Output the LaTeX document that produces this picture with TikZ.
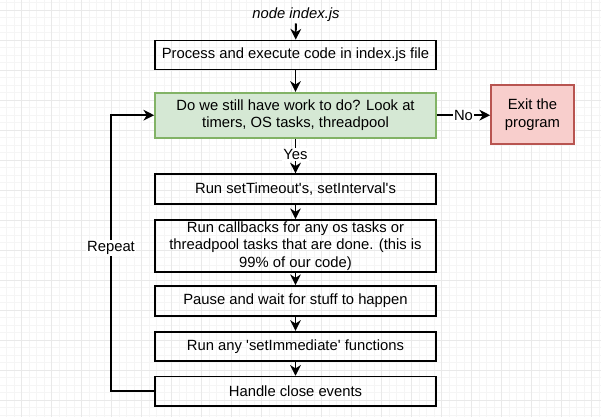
\documentclass[tikz,border=0pt]{standalone}
\usepackage{fontspec}
\setmainfont{Liberation Sans}
\usetikzlibrary{arrows.meta}
\definecolor{greenfill}{HTML}{D5E8D4}
\definecolor{greenline}{HTML}{82B366}
\definecolor{redfill}{HTML}{F8CECC}
\definecolor{redline}{HTML}{B85450}
\definecolor{gridminor}{HTML}{F5F5F5}
\definecolor{gridmajor}{HTML}{E9E9E9}
\begin{document}
\begin{tikzpicture}[x=0.75pt,y=-0.75pt,
  font=\fontsize{11.1}{13.3}\selectfont,
  box/.style={draw, line width=1.3pt, minimum width=210.75pt, align=center, inner sep=0pt},
  conn/.style={line width=1.4pt, -{Stealth[length=8pt,width=8pt,inset=2.5pt]}},
  lbl/.style={fill=white, inner sep=1pt}]
\useasboundingbox (0,0) rectangle (601,417);
\fill[white] (0,0) rectangle (601,417);
% background grid
\foreach \x in {6.7,14.2,...,601} \draw[gridminor, line width=0.4pt] (\x,0) -- (\x,417);
\foreach \y in {2.5,10,...,417} \draw[gridminor, line width=0.4pt] (0,\y) -- (601,\y);
\foreach \x in {21.7,51.7,...,601} \draw[gridmajor, line width=0.4pt] (\x,0) -- (\x,417);
\foreach \y in {10,40,...,417} \draw[gridmajor, line width=0.4pt] (0,\y) -- (601,\y);

\node[font=\fontsize{11.1}{13.3}\selectfont\itshape, inner sep=1pt] (start) at (296,15) {node index.js};
\node[box, minimum height=21.75pt] (proc) at (295.5,55) {Process and execute code in index.js file};
\node[box, fill=greenfill, draw=greenline, minimum height=33.75pt] (check) at (295.5,115.2)
  {Do we still have work to do? Look at\\timers, OS tasks, threadpool};
\node[box, fill=redfill, draw=redline, minimum width=62.25pt, minimum height=44.25pt] (exit) at (532.5,114.5)
  {Exit the\\program};
\node[box, minimum height=22.5pt] (timers) at (295.5,189.3) {Run setTimeout\textquotesingle s, setInterval\textquotesingle s};
\node[box, minimum height=39pt] (cb) at (295.5,246)
  {Run callbacks for any os tasks or\\threadpool tasks that are done. (this is\\99\% of our code)};
\node[box, minimum height=22.5pt] (pause) at (295.5,301) {Pause and wait for stuff to happen};
\node[box, minimum height=22pt] (immed) at (295.5,346.4) {Run any \textquotesingle setImmediate\textquotesingle{} functions};
\node[box, minimum height=22pt] (close) at (295.5,391.3) {Handle close events};
\coordinate (loopx) at (111,0);

\draw[conn] (start) -- (proc);
\draw[conn] (proc) -- (check);
\draw[conn] (check.east) -- node[lbl]{No} (check.east -| exit.west);
\draw[conn] (check) -- node[lbl, pos=0.45]{Yes} (timers);
\draw[conn] (timers) -- (cb);
\draw[conn] (cb) -- (pause);
\draw[conn] (pause) -- (immed);
\draw[conn] (immed) -- (close);
\draw[conn] (close.west) -- (close.west -| loopx) -- node[lbl, pos=0.52]{Repeat} (loopx |- check.west) -- (check.west);
\end{tikzpicture}
\end{document}
